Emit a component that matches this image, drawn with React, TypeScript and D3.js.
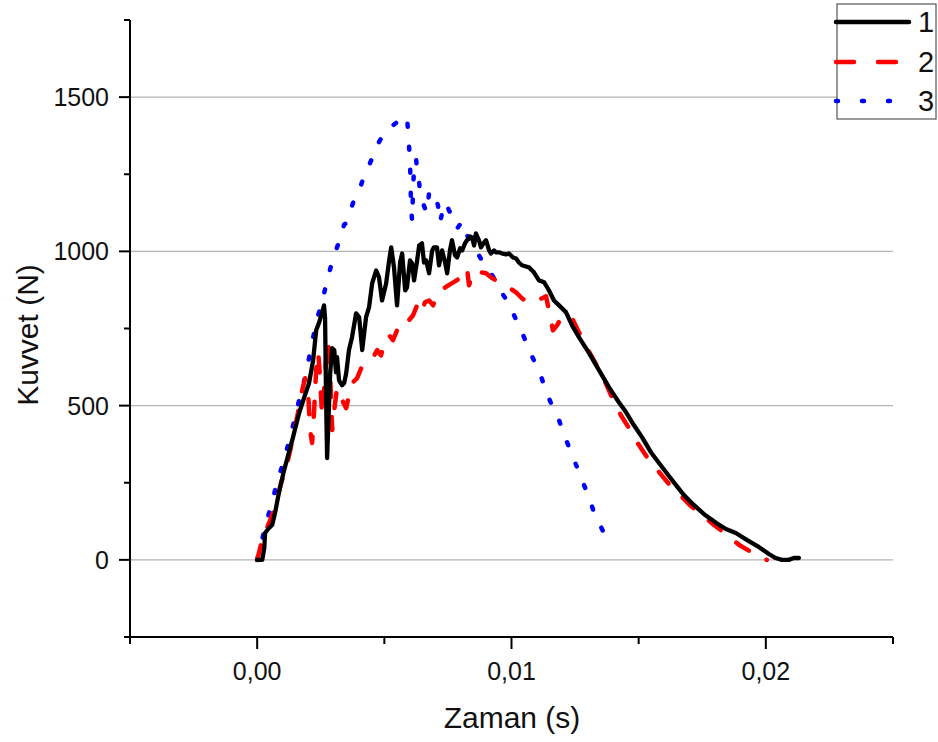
import React from "react";
import * as d3 from "d3";

// ---- Data (time in seconds, force in N) ----
const time1 = [0,0.0002,0.00028,0.00031,0.00047,0.00059,0.00071,0.00086,0.00106,0.00122,0.00138,0.00153,0.00165,0.00185,0.00204,0.0022,0.00232,0.00244,0.00263,0.00267,0.00271,0.00275,0.00279,0.00283,0.00287,0.00295,0.00303,0.0031,0.00314,0.00322,0.00334,0.00342,0.0035,0.00361,0.00373,0.00389,0.00401,0.00413,0.00428,0.0044,0.00452,0.00468,0.00479,0.00491,0.00507,0.00519,0.00527,0.00538,0.0055,0.00562,0.0057,0.00582,0.00589,0.00601,0.00609,0.00617,0.00629,0.00637,0.00648,0.00656,0.00664,0.00676,0.00688,0.00695,0.00707,0.00715,0.00727,0.00739,0.00747,0.00758,0.00766,0.00778,0.00786,0.00798,0.00806,0.00817,0.00825,0.00837,0.00845,0.00853,0.0086,0.00872,0.0088,0.00892,0.009,0.00912,0.00919,0.00931,0.00939,0.00951,0.00963,0.00978,0.0099,0.01006,0.01018,0.01029,0.01041,0.01057,0.01069,0.01088,0.01108,0.01128,0.01147,0.01167,0.01187,0.01214,0.01238,0.01265,0.01305,0.01344,0.01383,0.01422,0.0145,0.01481,0.01513,0.01548,0.0158,0.01619,0.01646,0.01678,0.01709,0.01756,0.01804,0.01843,0.01882,0.01925,0.01972,0.02012,0.02039,0.02063,0.0209,0.0211,0.0213];
const force1 = [0,0,39,87,104,113,155,220,291,340,388,437,476,527,573,647,744,770,825,783,518,330,421,518,605,686,680,608,657,582,566,573,605,680,722,799,786,680,786,819,896,938,916,841,896,971,1013,948,825,964,993,874,883,971,961,906,971,1019,1026,964,971,929,1003,1013,1013,955,1003,964,929,1003,1036,987,980,1010,1003,1026,1036,1048,1045,1019,1058,1036,1013,1029,1036,1003,993,1003,997,997,993,990,993,980,977,964,955,951,948,932,906,900,874,841,825,803,760,722,670,615,560,511,479,437,398,349,314,272,243,210,184,149,120,100,87,65,42,19,6,0,0,6,6];

const time2 = [0,0.00008,0.0002,0.00028,0.00039,0.00055,0.00075,0.00094,0.00114,0.0013,0.00145,0.00161,0.00177,0.00189,0.00201,0.00208,0.00216,0.00224,0.00232,0.0024,0.00248,0.00255,0.00263,0.00271,0.00279,0.00287,0.00295,0.00303,0.00314,0.00326,0.00338,0.0035,0.00361,0.00377,0.00393,0.00409,0.00424,0.0044,0.00456,0.00472,0.00487,0.00503,0.00519,0.00534,0.0055,0.00566,0.00582,0.00597,0.00613,0.00629,0.00644,0.0066,0.00676,0.00692,0.00703,0.00719,0.00739,0.00758,0.00778,0.00798,0.00813,0.00825,0.00833,0.00845,0.0086,0.0088,0.009,0.00919,0.00939,0.00963,0.0099,0.01018,0.01041,0.01069,0.01096,0.0112,0.01136,0.01151,0.01163,0.01179,0.01194,0.01218,0.01242,0.01265,0.01293,0.01324,0.0136,0.01395,0.0143,0.01462,0.01501,0.0154,0.0158,0.01619,0.01658,0.01705,0.01749,0.01796,0.01843,0.01894,0.01941,0.0198,0.02004];
const force2 = [0,26,65,91,104,136,184,249,298,356,414,479,550,589,534,421,379,485,615,673,582,469,550,647,712,599,421,485,557,534,511,492,534,576,589,621,634,641,657,680,663,712,728,712,744,767,783,777,793,825,799,835,841,825,854,870,883,893,903,913,932,945,890,922,938,932,929,916,906,893,883,867,848,832,841,848,854,793,744,760,783,796,777,738,692,647,592,527,469,427,372,324,285,246,214,175,146,113,84,49,26,6,0];

const time3 = [0,0.00012,0.00024,0.00039,0.00055,0.00071,0.00086,0.00102,0.00118,0.00134,0.00149,0.00165,0.00181,0.00196,0.00216,0.00236,0.00255,0.00275,0.00291,0.0031,0.0033,0.00342,0.00354,0.00369,0.00385,0.00405,0.0042,0.0044,0.0046,0.00475,0.00499,0.00519,0.00538,0.00558,0.00574,0.00589,0.00593,0.00597,0.00601,0.00605,0.00609,0.00613,0.00617,0.00625,0.00629,0.00637,0.00641,0.00648,0.0066,0.00668,0.00676,0.00688,0.00699,0.00711,0.00719,0.00731,0.00743,0.00754,0.00766,0.00786,0.00806,0.00825,0.00849,0.00868,0.00888,0.00912,0.00931,0.00951,0.00971,0.0099,0.0101,0.01029,0.01049,0.01069,0.01088,0.01108,0.01128,0.01147,0.01167,0.01187,0.01206,0.01226,0.01246,0.01265,0.01285,0.01305,0.01324,0.01344,0.01367];
const force3 = [0,39,81,129,178,227,272,314,362,414,460,518,566,621,705,783,835,906,955,1003,1052,1087,1094,1139,1175,1207,1243,1278,1320,1349,1382,1401,1411,1424,1430,1437,1392,1343,1294,1149,1100,1197,1278,1301,1256,1223,1181,1165,1139,1126,1191,1197,1181,1149,1094,1139,1158,1133,1116,1074,1097,1052,1019,993,964,938,913,883,854,832,793,760,722,680,647,615,566,524,485,453,405,366,324,285,243,201,155,120,81];

const xMajorTicks = [0, 0.01, 0.02];
const xMinorTicks = [-0.005, 0.005, 0.015, 0.025];
const yMajorTicks = [0, 500, 1000, 1500];
const yMinorTicks = [-250, 250, 750, 1250, 1750];
const seriesNames = ["1", "2", "3"];
const seriesColors = ["#000000", "#ff0000", "#0000ff"];

const FONT = "'Liberation Sans', Arial, sans-serif";

export default function App() {
  const W = 938, H = 742;
  const x = d3.scaleLinear().domain([-0.005, 0.025]).range([130, 893]);
  const y = d3.scaleLinear().domain([-250, 1750]).range([637, 20]);

  const mk = (ts: number[], fs: number[]) => ts.map((t, i) => [t, fs[i]] as [number, number]);
  const line = d3.line<[number, number]>().x(d => x(d[0])).y(d => y(d[1]));

  const s1 = mk(time1, force1);
  const s2 = mk(time2, force2);
  const s3 = mk(time3, force3);

  const fmtX = (v: number) => v.toFixed(2).replace(".", ",");
  const x0 = x.range()[0];
  const y0 = y.range()[0];

  return (
    <svg width={W} height={H} style={{ position: "absolute", left: 0, top: 0, background: "#fff" }}>
      {/* gridlines */}
      {yMajorTicks.map(v => (
        <line key={"g" + v} x1={x0} x2={893} y1={y(v)} y2={y(v)} stroke="#b4b4b4" strokeWidth={1.3} />
      ))}

      {/* series */}
      <path d={line(s3) || ""} fill="none" stroke={seriesColors[2]} strokeWidth={4.5} strokeDasharray="3 20" strokeLinecap="round" strokeLinejoin="round" />
      <path d={line(s2) || ""} fill="none" stroke={seriesColors[1]} strokeWidth={4.5} strokeDasharray="15 20" strokeLinecap="round" strokeLinejoin="round" />
      <path d={line(s1) || ""} fill="none" stroke={seriesColors[0]} strokeWidth={4.3} strokeLinejoin="round" strokeLinecap="round" />

      {/* axes */}
      <line x1={x0} x2={x0} y1={y(1750)} y2={y0 + 1} stroke="#000" strokeWidth={2} />
      <line x1={x0 - 1} x2={893} y1={y0} y2={y0} stroke="#000" strokeWidth={2} />
      {yMajorTicks.map(v => (
        <g key={"yt" + v}>
          <line x1={x0 - 11} x2={x0} y1={y(v)} y2={y(v)} stroke="#000" strokeWidth={2} />
          <text x={109} y={y(v)} dy="0.36em" textAnchor="end" fontFamily={FONT} fontSize={25} fill="#111">{v}</text>
        </g>
      ))}
      {yMinorTicks.map(v => (
        <line key={"ym" + v} x1={x0 - 6} x2={x0} y1={y(v)} y2={y(v)} stroke="#000" strokeWidth={2} />
      ))}
      {xMajorTicks.map(v => (
        <g key={"xt" + v}>
          <line x1={x(v)} x2={x(v)} y1={y0} y2={y0 + 12} stroke="#000" strokeWidth={2} />
          <text x={x(v)} y={680} textAnchor="middle" fontFamily={FONT} fontSize={25} fill="#111">{fmtX(v)}</text>
        </g>
      ))}
      {xMinorTicks.map(v => (
        <line key={"xm" + v} x1={x(v)} x2={x(v)} y1={y0} y2={y0 + 7} stroke="#000" strokeWidth={2} />
      ))}

      {/* axis titles */}
      <text x={512} y={728} textAnchor="middle" fontFamily={FONT} fontSize={30} fill="#111">Zaman (s)</text>
      <text transform="translate(38,335) rotate(-90)" textAnchor="middle" fontFamily={FONT} fontSize={30} fill="#111">Kuvvet (N)</text>

      {/* legend */}
      <rect x={837} y={4} width={99} height={115} fill="#fff" stroke="#555" strokeWidth={1.2} />
      {seriesNames.map((n, i) => {
        const ly = [22, 62, 101][i];
        return (
          <g key={"lg" + n}>
            <line x1={836} x2={909} y1={ly} y2={ly} stroke={seriesColors[i]} strokeWidth={4.5}
              strokeDasharray={i === 1 ? "18 24" : i === 2 ? "2 24" : undefined}
              strokeLinecap="round" />
            <text x={918} y={ly} dy="0.36em" fontFamily={FONT} fontSize={29} fill="#111">{n}</text>
          </g>
        );
      })}
    </svg>
  );
}
